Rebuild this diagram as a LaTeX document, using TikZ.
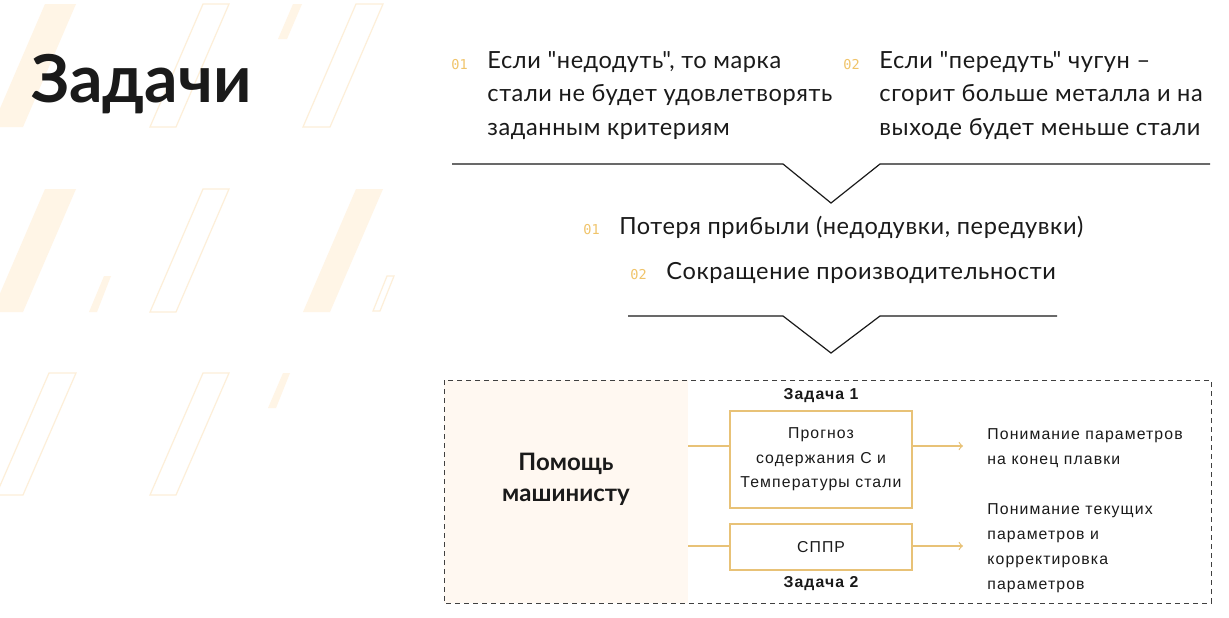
\documentclass[tikz,border=0pt]{standalone}
\usepackage{fontspec}
\setmainfont{Lato}
\newfontfamily\bodyfont[LetterSpace=2.5]{Lato}
\newfontfamily\boxfont[LetterSpace=7]{Liberation Sans}
\newfontfamily\numfont{DejaVu Sans Mono}
\definecolor{gold}{HTML}{E8C277}
\definecolor{numgold}{HTML}{F0C46A}
\definecolor{stripefill}{HTML}{FFF5E6}
\definecolor{stripeline}{HTML}{FDEFD9}
\definecolor{leftfill}{HTML}{FFF8F1}
\definecolor{ink}{HTML}{1A1A1A}

\begin{document}
\begin{tikzpicture}[x=0.5pt, y=-0.5pt]
 \tikzstyle{stripe}=[fill=stripefill, draw=none]
 \tikzstyle{stripeo}=[draw=stripeline, line width=0.6pt]
 \tikzstyle{num}=[anchor=base west, inner sep=0, text=numgold, font=\numfont\fontsize{6.8}{8}\selectfont]
 \tikzstyle{body}=[anchor=north west, inner sep=0, align=left, text=ink, font=\bodyfont\fontsize{11.8}{16.7}\selectfont]
 \tikzstyle{sep}=[line width=0.6pt, ink]
 \tikzstyle{quadri}=[draw=gold, line width=0.6pt, fill=white, text=ink, align=center, minimum width=91pt, font=\boxfont\fontsize{7.9}{12.2}\selectfont]
 \tikzstyle{small}=[inner sep=0, text=ink, align=left, font=\boxfont\fontsize{7.9}{12.5}\selectfont]
 \tikzstyle{link}=[gold, line width=0.6pt]
 \tikzstyle{estun}=[->, >=to, gold, line width=0.6pt]
 %
 \useasboundingbox (0,0) rectangle (1229,617);
 \fill[white] (0,0) rectangle (1229,617);
 \begin{scope}
 \clip (0,0) rectangle (1229,617);
 \fill[stripe] (45,4) -- (76,4) -- (23,127) -- (-8,127) -- cycle;
 \draw[stripeo] (203,4) -- (229,4) -- (176,127) -- (150,127) -- cycle;
 \fill[stripe] (293,4) -- (302,4) -- (287,39) -- (278,39) -- cycle;
 \draw[stripeo] (356,4) -- (383,4) -- (330,127) -- (303,127) -- cycle;
 %
 \fill[stripe] (45,189) -- (76,189) -- (23,312) -- (-8,312) -- cycle;
 \fill[stripe] (104,276) -- (111,276) -- (97,312) -- (89,312) -- cycle;
 \draw[stripeo] (203,189) -- (229,189) -- (176,312) -- (150,312) -- cycle;
 \fill[stripe] (356,189) -- (383,189) -- (330,312) -- (303,312) -- cycle;
 \draw[stripeo] (387,276) -- (394,276) -- (380,311) -- (373,311) -- cycle;
 %
 \draw[stripeo] (49,373) -- (76,373) -- (23,495) -- (-4,495) -- cycle;
 \draw[stripeo] (203,373) -- (229,373) -- (176,495) -- (150,495) -- cycle;
 \fill[stripe] (283,373) -- (290,373) -- (276,408) -- (268,408) -- cycle;
 \end{scope}
 %
 \node[anchor=base west, inner sep=0, text=ink, font=\fontsize{33}{36}\selectfont\bfseries] (title) at (31,102) {Задачи};
 %
 \node[num] (n1) at (451,69) {01};
 \node[body] (t1) at (487,51) {Если \symbol{34}недодуть\symbol{34}, то марка\\стали не будет удовлетворять\\заданным критериям};
 \node[num] (n2) at (843,69) {02};
 \node[body] (t2) at (879,51) {Если \symbol{34}передуть\symbol{34} чугун –\\сгорит больше металла и на\\выходе будет меньше стали};
 %
 \draw[sep] (452,164) -- (783,164) -- (831,203) -- (880,164) -- (1210,164);
 %
 \node[num] (n3) at (583,234) {01};
 \node[body, anchor=base west] (t3) at (619,234) {Потеря прибыли (недодувки, передувки)};
 \node[num] (n4) at (630,279) {02};
 \node[body, anchor=base west] (t4) at (666,279) {Сокращение производительности};
 %
 \draw[sep] (628,316) -- (783,316) -- (831,353) -- (880,316) -- (1057,316);
 %%
 \fill[leftfill] (444,380) rectangle (688,603);
 \draw[dash pattern=on 2.5pt off 2pt, line width=0.5pt, black!75] (444,380) rectangle (1211,603);
 \node[inner sep=0, align=center, text=ink, font=\fontsize{12}{15.5}\selectfont\bfseries] (help) at (566,479) {Помощь\\машинисту};
 %
 \node[quadri, minimum height=48.5pt] (B1) at (821,459.5) {Прогноз\\содержания С и\\Температуры стали};
 \node[quadri, minimum height=23pt] (B2) at (821,547) {СППР};
 \node[small, font=\boxfont\fontsize{7.9}{9}\selectfont\bfseries] (z1) at (821,396) {Задача 1};
 \node[small, font=\boxfont\fontsize{7.9}{9}\selectfont\bfseries] (z2) at (821,584) {Задача 2};
 %
 \coordinate (in1) at (688,446);
 \coordinate (in2) at (688,546);
 \coordinate (out1) at (963,446);
 \coordinate (out2) at (963,546);
 \draw[link] (in1) -- (in1 -| B1.west);
 \draw[link] (in2) -- (in2 -| B2.west);
 \draw[estun] (B1.east |- out1) -- (out1);
 \draw[estun] (B2.east |- out2) -- (out2);
 %
 \node[small, anchor=north west] (r1) at (987,428) {Понимание параметров\\на конец плавки};
 \node[small, anchor=north west] (r2) at (987,503) {Понимание текущих\\параметров и\\корректировка\\параметров};
\end{tikzpicture}
\end{document}
